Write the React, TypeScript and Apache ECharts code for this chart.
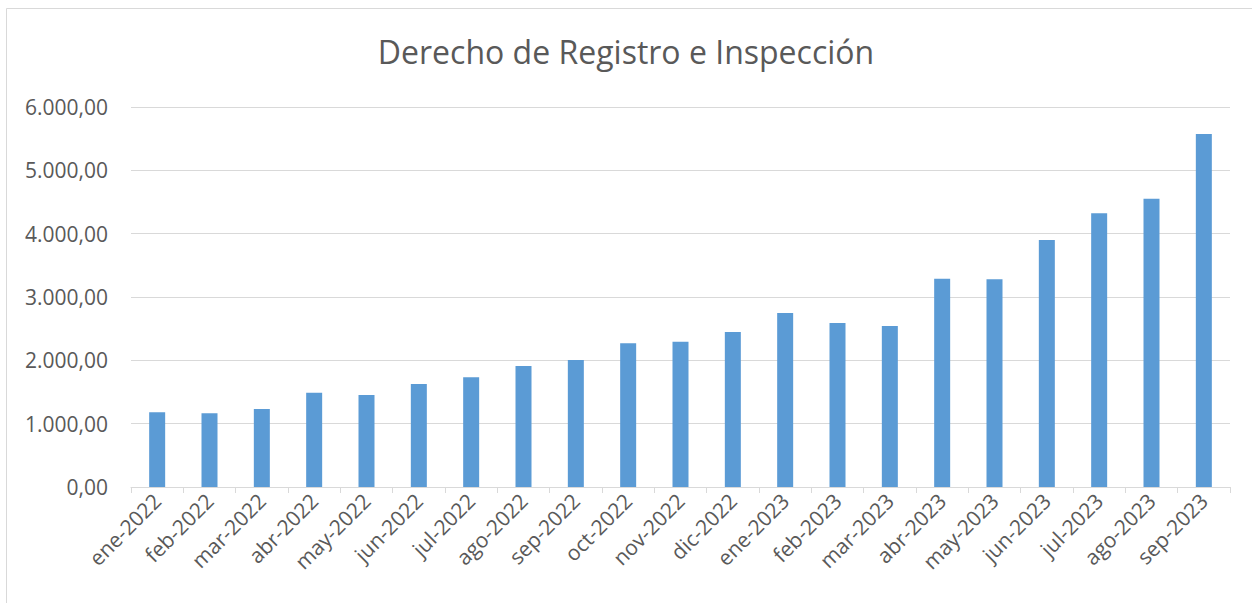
import React, { useEffect, useRef } from "react";
import * as echarts from "echarts";

const categories = [
  "ene-2022", "feb-2022", "mar-2022", "abr-2022", "may-2022", "jun-2022", "jul-2022",
  "ago-2022", "sep-2022", "oct-2022", "nov-2022", "dic-2022", "ene-2023", "feb-2023",
  "mar-2023", "abr-2023", "may-2023", "jun-2023", "jul-2023", "ago-2023", "sep-2023",
];

const values = [
  1180, 1163, 1232, 1489, 1453, 1626, 1732, 1910, 2005, 2268, 2295, 2447, 2747, 2590,
  2542, 3290, 3279, 3900, 4321, 4550, 5574,
];

const titleText = "Derecho de Registro e Inspección";

function fmt(v: number): string {
  const int = Math.floor(Math.abs(v));
  const s = String(int).replace(/\B(?=(\d{3})+(?!\d))/g, ".");
  return (v < 0 ? "-" : "") + s + ",00";
}

export default function App() {
  const ref = useRef<HTMLDivElement>(null);
  useEffect(() => {
    if (!ref.current) return;
    const chart = echarts.init(ref.current, undefined, { renderer: "svg" });
    const font = "'Open Sans', 'Noto Sans', sans-serif";
    chart.setOption({
      animation: false,
      backgroundColor: "#ffffff",
      title: {
        text: titleText,
        left: "center",
        top: 30,
        textStyle: { fontFamily: font, fontSize: 32, fontWeight: "normal", color: "#595959" },
      },
      graphic: [
        {
          type: "rect",
          shape: { x: 6.5, y: 8.5, width: 1300, height: 700 },
          style: { fill: "none", stroke: "#d9d9d9", lineWidth: 1 },
          silent: true,
        },
      ],
      grid: { left: 131, right: 22, top: 107, bottom: 116, containLabel: false },
      xAxis: {
        type: "category",
        data: categories,
        axisLine: { lineStyle: { color: "#d9d9d9", width: 1 } },
        axisTick: { show: true, length: 6, lineStyle: { color: "#d9d9d9" } },
        axisLabel: {
          rotate: 45,
          interval: 0,
          margin: 10,
          fontFamily: font,
          fontSize: 21,
          color: "#595959",
        },
      },
      yAxis: {
        type: "value",
        min: 0,
        max: 6000,
        interval: 1000,
        axisLine: { show: false },
        axisTick: { show: false },
        splitLine: { lineStyle: { color: "#d9d9d9", width: 1 } },
        axisLabel: {
          formatter: (v: number) => fmt(v),
          margin: 23,
          fontFamily: font,
          fontSize: 21,
          color: "#595959",
        },
      },
      series: [
        {
          type: "bar",
          data: values,
          barWidth: 16,
          itemStyle: { color: "#5b9bd5" },
        },
      ],
    });
    return () => chart.dispose();
  }, []);
  return (
    <div
      ref={ref}
      style={{ position: "fixed", left: 0, top: 0, width: 1252, height: 603 }}
    />
  );
}
